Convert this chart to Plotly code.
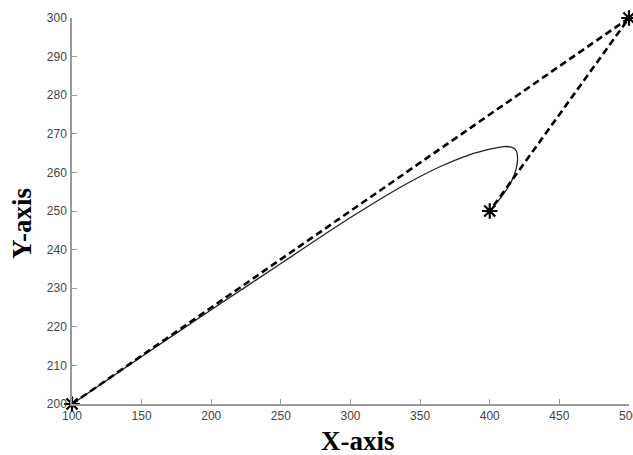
import plotly.graph_objects as go

# Straight reference path through the way-points (dashed)
path_x = [100, 500, 400]
path_y = [200, 300, 250]

# Traced trajectory (solid)
traj_x = [100, 150, 200, 250, 300, 340, 365, 385, 400, 410, 416, 419, 420, 419, 416, 412, 407, 403, 400]
traj_y = [200, 212.3, 224.4, 236.4, 248.3, 257.0, 261.6, 264.5, 266.0, 266.7, 266.5, 265.6, 263.5, 261.0, 258.0, 255.5, 253.0, 251.3, 250]

x_ticks = [100, 150, 200, 250, 300, 350, 400, 450, 500]
y_ticks = [200, 210, 220, 230, 240, 250, 260, 270, 280, 290, 300]

title_font = dict(family="Liberation Serif, Times New Roman, serif", size=27, color="black")

fig = go.Figure()

fig.add_trace(go.Scatter(
    x=traj_x, y=traj_y, mode="lines",
    line=dict(color="#222222", width=1.3, shape="spline", smoothing=0.8),
    hoverinfo="skip", showlegend=False,
))

fig.add_trace(go.Scatter(
    x=path_x, y=path_y, mode="lines+markers",
    line=dict(color="black", width=2.6, dash="7px,4px"),
    marker=dict(symbol="asterisk-open", size=13, color="black",
                line=dict(color="black", width=2.2)),
    cliponaxis=False, showlegend=False,
))

axis_common = dict(
    showgrid=False, zeroline=False, showline=True,
    linecolor="#9a9a9a", linewidth=1.5,
    ticks="inside", ticklen=5, tickcolor="#9a9a9a", tickwidth=1.2,
    tickfont=dict(family="Liberation Sans, Arial, sans-serif", size=12, color="#444444"),
    mirror=False, automargin=False,
)

fig.update_xaxes(
    range=[100, 500], tickvals=x_ticks, ticktext=[str(v) for v in x_ticks],
    ticklabeloverflow="allow",
    **axis_common,
)
fig.update_yaxes(
    range=[200, 300], tickvals=y_ticks, ticktext=[str(v) for v in y_ticks],
    ticklabelstandoff=1,
    **axis_common,
)

# Axis titles
fig.add_annotation(text="<b>X-axis</b>", xref="paper", yref="paper",
                   x=(358 - 72) / 557, y=-(441 - 404) / 386,
                   xanchor="center", yanchor="middle", showarrow=False, font=title_font)
fig.add_annotation(text="<b>Y-axis</b>", xref="paper", yref="paper",
                   x=-(72 - 22) / 557, y=(404 - 224) / 386, textangle=-90,
                   xanchor="center", yanchor="middle", showarrow=False, font=title_font)

fig.update_layout(
    width=633, height=455,
    margin=dict(l=72, r=4, t=18, b=51),
    paper_bgcolor="white", plot_bgcolor="white",
    showlegend=False,
)

fig.write_html("out.html")
